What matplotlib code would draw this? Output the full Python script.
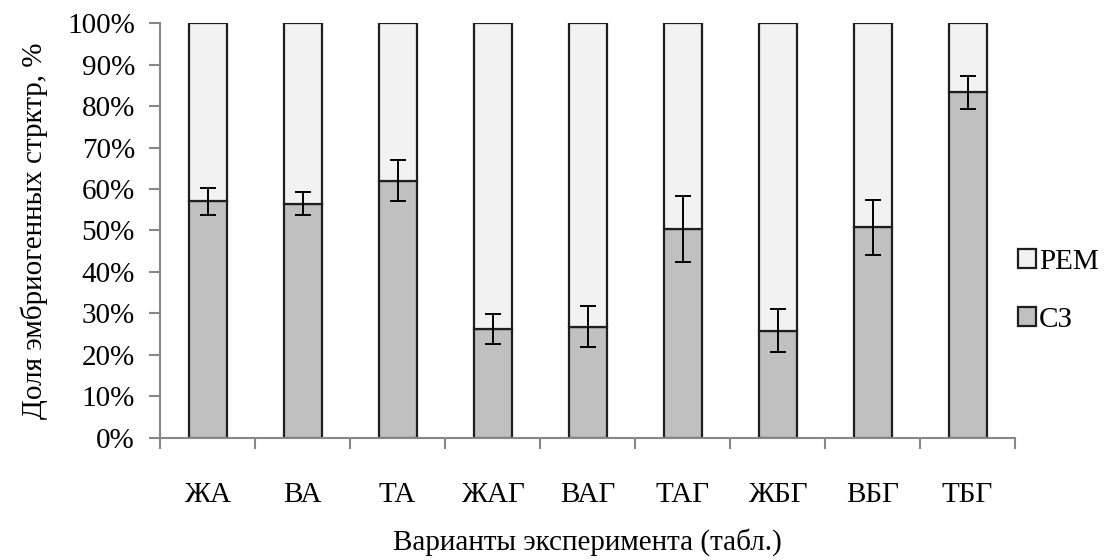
import numpy as np
import matplotlib.pyplot as plt
from matplotlib.ticker import FixedLocator, PercentFormatter

plt.rcParams['font.family'] = ['Liberation Serif', 'DejaVu Serif']

# data
categories = ['ЖА', 'ВА', 'ТА', 'ЖАГ', 'ВАГ', 'ТАГ', 'ЖБГ', 'ВБГ', 'ТБГ']
sz = np.array([57.0, 56.5, 62.0, 26.3, 26.8, 50.3, 25.9, 50.8, 83.3])
sz_err = np.array([3.3, 2.8, 5.0, 3.6, 4.9, 7.9, 5.1, 6.6, 4.0])
rem = 100 - sz

fig = plt.figure(figsize=(11.12, 5.6), dpi=100)
ax = fig.add_axes([0.1439, 0.2179, 0.7689, 0.7410])

x = np.arange(len(categories))
edge = '#1e1e1e'
ax.bar(x, sz, width=0.4, color='#c0c0c0', edgecolor=edge, linewidth=1.6, label='СЗ', zorder=2)
ax.bar(x, rem, width=0.4, bottom=sz, color='#f2f2f2', edgecolor=edge, linewidth=1.6, label='РЕМ', zorder=2)
ax.errorbar(x, sz, yerr=sz_err, fmt='none', ecolor='black', elinewidth=1.4,
            capsize=5.5, capthick=1.4, zorder=3)

ax.set_xlim(-0.5, len(categories) - 0.5)
ax.set_ylim(0, 100)
ax.yaxis.set_major_locator(FixedLocator(np.arange(0, 101, 10)))
ax.yaxis.set_major_formatter(PercentFormatter(decimals=0))

ax.set_xticks(x)
ax.set_xticklabels(categories)
ax.xaxis.set_minor_locator(FixedLocator(np.arange(-0.5, len(categories), 1.0)))
ax.tick_params(axis='x', which='major', length=0, pad=32, labelsize=21)
ax.tick_params(axis='x', which='minor', length=8, width=1.5, color='#878787')
ax.tick_params(axis='y', length=8, width=1.5, color='#878787', pad=10, labelsize=21)

for s in ['top', 'right']:
    ax.spines[s].set_visible(False)
for s in ['left', 'bottom']:
    ax.spines[s].set_color('#878787')
    ax.spines[s].set_linewidth(1.5)

ax.set_xlabel('Варианты эксперимента (табл.)', fontsize=21, labelpad=14)
ax.set_ylabel('Доля эмбриогенных стрктр, %', fontsize=21, labelpad=14)

handles, labels = ax.get_legend_handles_labels()
ax.legend(handles[::-1], labels[::-1], loc='center left', bbox_to_anchor=(0.98, 0.355),
          frameon=False, fontsize=21, handlelength=0.6, handleheight=0.6,
          handletextpad=0.1, labelspacing=1.1, borderaxespad=0.3)

fig.savefig('out.png', dpi=100)
